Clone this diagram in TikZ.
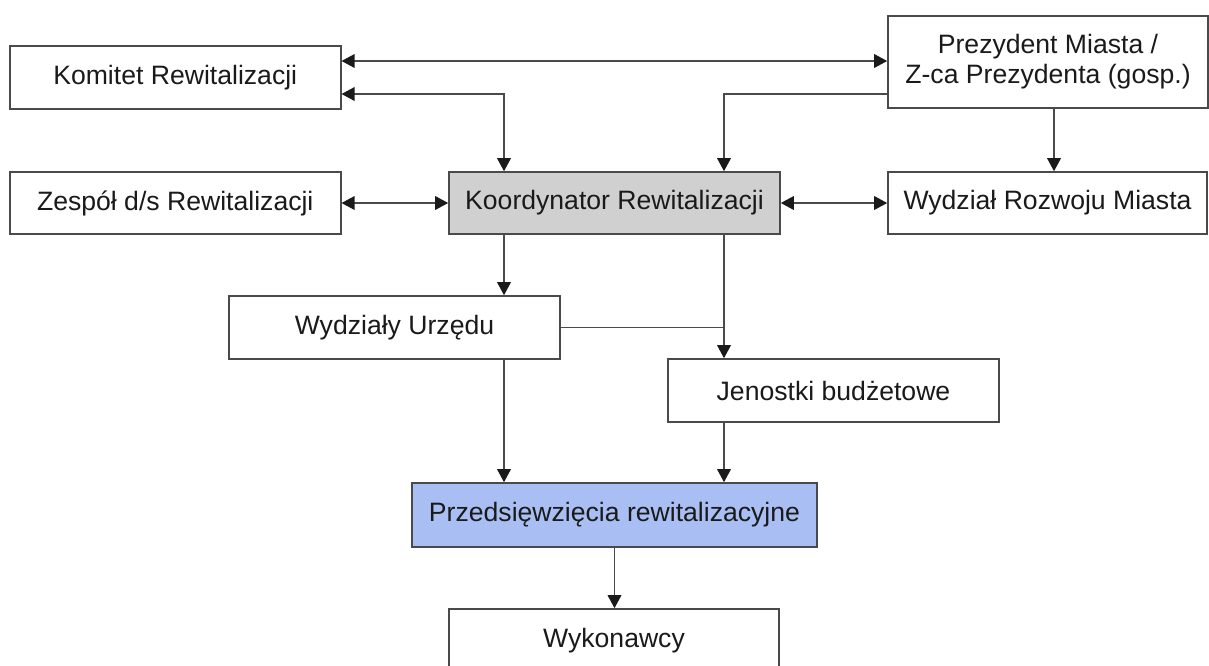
\documentclass[tikz,border=0pt]{standalone}
\usepackage{fontspec}
\setmainfont{Liberation Sans}
\usetikzlibrary{arrows.meta,calc}
\definecolor{linegray}{HTML}{4A4A4A}
\definecolor{boxgray}{HTML}{D0D0D0}
\definecolor{boxblue}{HTML}{A9BFF4}
\definecolor{txt}{HTML}{1A1A1A}
\definecolor{tipcol}{HTML}{1A1A1A}
\begin{document}
\begin{tikzpicture}[x=0.5pt,y=-0.5pt,
  box/.style={draw=linegray,line width=0.8pt,fill=white,inner sep=0pt,
    minimum width=165.5pt,minimum height=31.5pt,align=center,text=txt,
    font=\fontsize{13.3}{15}\selectfont},
  conn/.style={draw=linegray,line width=0.75pt},
  tip/.style={-{Triangle[length=6.5pt,width=6.8pt,color=tipcol]}},
  tips/.style={{Triangle[length=6.5pt,width=6.8pt,color=tipcol]}-{Triangle[length=6.5pt,width=6.8pt,color=tipcol]}}]
\useasboundingbox (0,0) rectangle (1209,665);
\node[box] (kom) at (175.25,77.5) {Komitet Rewitalizacji};
\node[box,minimum width=160pt,minimum height=46pt] (prez) at (1048,62) {Prezydent Miasta /\\Z-ca Prezydenta (gosp.)};
\node[box,minimum height=31pt] (zes) at (175.25,203) {Zespół d/s Rewitalizacji};
\node[box,minimum height=31pt,fill=boxgray] (koor) at (614.5,203) {Koordynator Rewitalizacji};
\node[box,minimum width=159.5pt,minimum height=31pt] (wrm) at (1047.5,203) {Wydział Rozwoju Miasta};
\node[box] (wu) at (394.5,327.5) {Wydziały Urzędu};
\node[box] (jb) at (833.5,390.5) {Jenostki budżetowe};
\node[box,minimum width=202.5pt,minimum height=32pt,fill=boxblue] (prz) at (614.5,515) {Przedsięwzięcia rewitalizacyjne};
\node[box,minimum width=165pt,minimum height=31.5pt] (wyk) at (614,640.5) {Wykonawcy};
\coordinate (kl) at ([xshift=-55.25pt]koor.north);
\coordinate (kr) at ([xshift=54.75pt]koor.north);
\coordinate (kbl) at ([xshift=-55.25pt]koor.south);
\coordinate (kbr) at ([xshift=54.75pt]koor.south);
\coordinate (pz) at ([xshift=3pt]prez.south);
\coordinate (wub) at ([xshift=54.75pt]wu.south);
\coordinate (jbb) at ([xshift=-54.75pt]jb.south);
\draw[conn,tips] ([yshift=8.25pt]kom.east) -- ([yshift=8.25pt]kom.east -| prez.west);
\draw[conn,tips] ([yshift=-8.25pt]kom.east) -| (kl);
\draw[conn,tip] ([yshift=-16pt]prez.west) -| (kr);
\draw[conn,tip] (pz) -- (pz |- wrm.north);
\draw[conn,tips] (zes.east) -- (koor.west);
\draw[conn,tips] (koor.east) -- (wrm.west);
\draw[conn,tip] (kbl) -- (kbl |- wu.north);
\draw[conn,tip] (kbr) -- (kbr |- jb.north);
\draw[conn] (wu.east) -- (wu.east -| kbr);
\draw[conn,tip] (wub) -- (wub |- prz.north);
\draw[conn,tip] (jbb) -- (jbb |- prz.north);
\draw[conn,tip] (prz.south) -- (prz.south |- wyk.north);
\end{tikzpicture}
\end{document}
